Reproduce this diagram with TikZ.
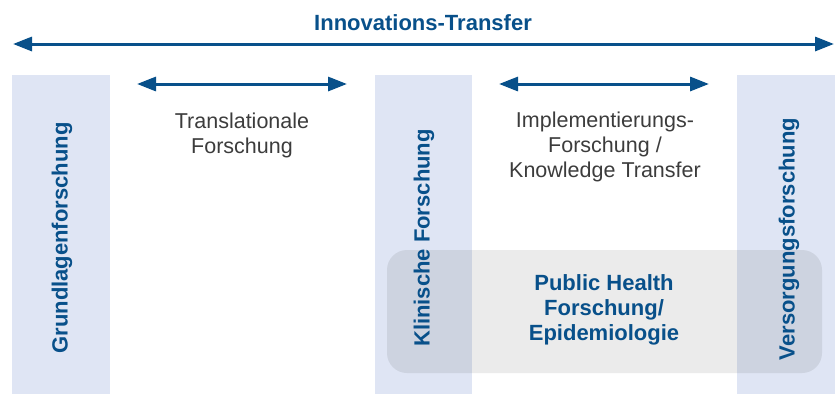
\documentclass[tikz,border=0pt]{standalone}
\usepackage{fontspec}
\setmainfont{Liberation Sans}
\usetikzlibrary{arrows.meta}
\definecolor{dblue}{RGB}{8,80,138}
\definecolor{colblue}{RGB}{223,229,244}
\definecolor{boxgray}{RGB}{235,235,235}
\definecolor{txtgray}{RGB}{60,60,60}
\tikzset{
  colfill/.style={fill=colblue},
  bigarrow/.style={draw=dblue, line width=3pt, {Triangle[length=19pt,width=14pt]}-{Triangle[length=19pt,width=14pt]}},
  boldlabel/.style={font=\fontsize{22}{25}\selectfont\bfseries, text=dblue, align=center, inner sep=0pt},
  lightlabel/.style={font=\fontsize{21.5}{25}\selectfont, text=txtgray, align=center, inner sep=0pt},
  vlabel/.style={boldlabel, rotate=90}
}
\begin{document}
\begin{tikzpicture}[x=1pt,y=-1pt]
\useasboundingbox (0,0) rectangle (840,394);
% columns
\fill[colfill] (12,75) rectangle (110,394);
\fill[colfill] (375,75) rectangle (472,394);
\fill[colfill] (737,75) rectangle (835,394);
% public health box
\begin{scope}[blend mode=multiply]
\fill[boxgray, rounded corners=20pt] (387,250) rectangle (822,373);
\end{scope}
% title and arrows
\node[boldlabel] (title) at (423,23) {Innovations-Transfer};
\coordinate (tl) at (13,44);
\coordinate (tr) at (834,44);
\draw[bigarrow] (tl) -- (tr);
\coordinate (al1) at (137,84);
\coordinate (ar1) at (347,84);
\draw[bigarrow] (al1) -- (ar1);
\coordinate (al2) at (499,84);
\coordinate (ar2) at (709,84);
\draw[bigarrow] (al2) -- (ar2);
% labels
\node[lightlabel] (trans) at (242,135.5) {Translationale\\Forschung};
\node[lightlabel] (impl) at (605,147) {Implementierungs-\\Forschung /\\Knowledge Transfer};
\node[vlabel] (grund) at (62,238) {Grundlagenforschung};
\node[vlabel] (klin) at (424,238) {Klinische Forschung};
\node[vlabel] (vers) at (789,239) {Versorgungsforschung};
\node[boldlabel] (ph) at (604,310) {Public Health\\Forschung/\\Epidemiologie};
\end{tikzpicture}
\end{document}
